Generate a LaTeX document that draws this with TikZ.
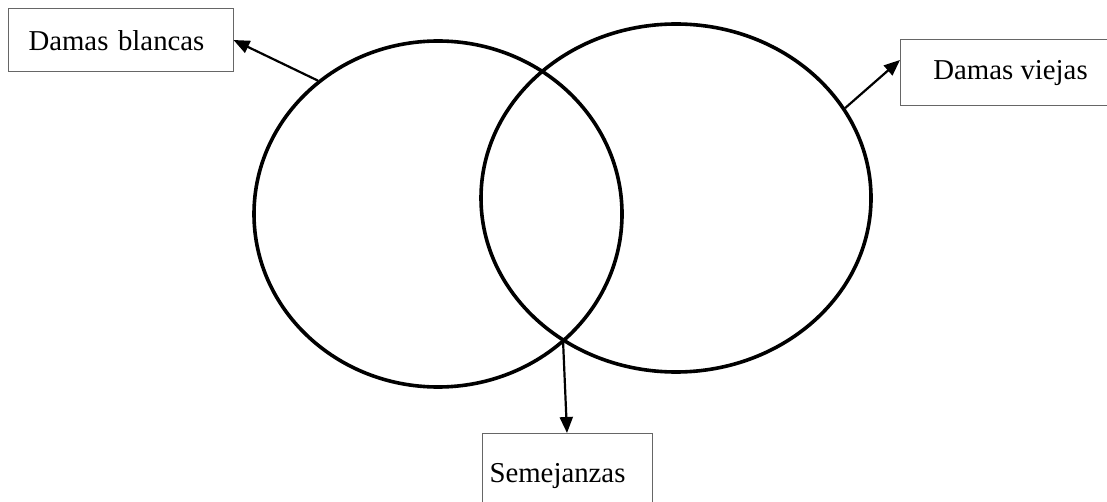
\documentclass[tikz,border=0pt]{standalone}
\usepackage{fontspec}
\setmainfont{Liberation Serif}
\usetikzlibrary{arrows.meta,positioning,shapes.geometric}
\tikzset{
  caja/.style={draw=black!60,line width=0.5pt,fill=white,inner sep=0pt,font=\fontsize{14.4}{17}\selectfont},
  conjunto/.style={ellipse,draw=black,line width=1.8pt,inner sep=0pt},
  flecha/.style={-{Triangle[length=8pt,width=6.5pt]},line width=1.1pt,draw=black},
}
\begin{document}
\begin{tikzpicture}[x=0.5pt,y=-0.5pt]
  \useasboundingbox (0,0) rectangle (1107,502);
  % conjuntos
  \node[conjunto,minimum width=184pt,minimum height=173pt] (blancas) at (438,214) {};
  \node[conjunto,minimum width=195pt,minimum height=174pt] (viejas) at (676,198) {};
  \coordinate (cruce) at (563,340);
  % etiquetas
  \node[caja,minimum width=112.5pt,minimum height=31.5pt,text width=106pt,align=left,inner xsep=3pt] (tblancas) at (120.5,40.5) {\hspace{7pt}Damas blancas};
  \node[caja,minimum width=110pt,minimum height=33pt,anchor=west] (tviejas) at (900,73) {Damas viejas};
  \node[caja,minimum width=84.5pt,minimum height=43pt,anchor=north west,text width=78pt,align=left,inner xsep=3.5pt] (tsemej) at (482,433) {Semejanzas};
  % flechas
  \draw[flecha] (blancas.132) -- (tblancas.east |- 0,40);
  \draw[flecha] (viejas.28) -- (tviejas.west |- 0,60);
  \draw[flecha] (cruce) -- (tsemej.north -| 567,0);
\end{tikzpicture}
\end{document}
